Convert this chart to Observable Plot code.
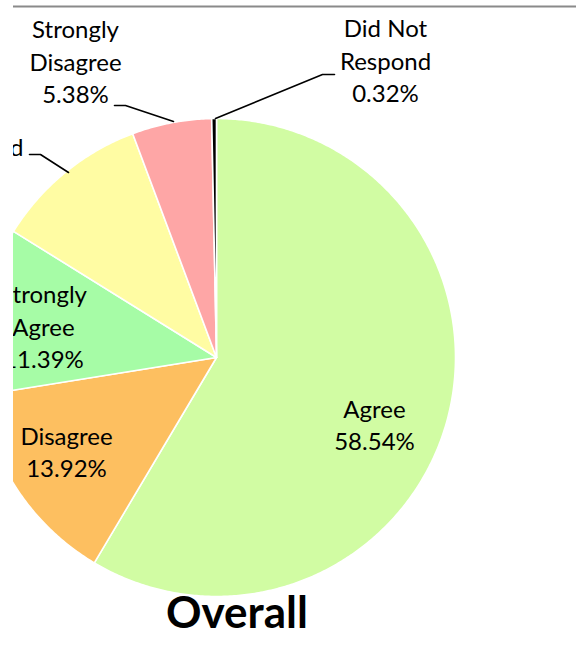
<!DOCTYPE html>
<html>
<head>
<meta charset="utf-8">
<script src="https://cdn.jsdelivr.net/npm/d3@7"></script>
<script src="https://cdn.jsdelivr.net/npm/@observablehq/plot@0.6"></script>
<style>
  html, body { margin: 0; padding: 0; background: #fff; }
  #chart { position: absolute; left: 13px; top: 0; width: 563px; height: 646px; overflow: hidden; }
  #chart svg { display: block; overflow: hidden; }
</style>
</head>
<body>
<div id="chart"></div>
<script>
// ---- data ----
const categories = ["Agree", "Disagree", "Strongly Agree", "Undecided", "Strongly Disagree", "Did Not Respond"];
const percents = [58.54, 13.92, 11.39, 10.45, 5.38, 0.32];
const colors = ["#d1fca3", "#fdbf60", "#a6fca6", "#fffca3", "#fea6a6", "#000000"];
const labelTexts = ["Agree", "Disagree", "Strongly\nAgree", "Undecided", "Strongly\nDisagree", "Did Not\nRespond"];
const title = "Overall";

// ---- layout (pixel offsets relative to pie centre) ----
const W = 563, H = 646;
const CX = 203, CY = 357, R = 239;
const labelPos = [[158, 66], [-150, 93], [-173, -32], [null, -196], [-141, -297], [169, -298]];

// wedges
const pie = d3.pie().sort(null).value(d => d)(percents);
const wedgePts = [];
pie.forEach((p, i) => {
  const a0 = p.startAngle, a1 = p.endAngle;
  const n = Math.max(2, Math.ceil((a1 - a0) / (Math.PI / 360)));
  wedgePts.push({slice: categories[i], x: 0, y: 0});
  for (let k = 0; k <= n; k++) {
    const a = a0 + (a1 - a0) * k / n;
    wedgePts.push({slice: categories[i], x: R * Math.sin(a), y: -R * Math.cos(a)});
  }
  wedgePts.push({slice: categories[i], x: 0, y: 0});
});

// label width for the clipped "Undecided" label
const ctx = document.createElement("canvas").getContext("2d");
ctx.font = "24px Lato";
const undW = ctx.measureText("Undecided").width;
labelPos[3][0] = (23 - 216) - undW / 2;

const labels = categories.map((c, i) => ({
  text: labelTexts[i] + "\n" + percents[i].toFixed(2) + "%",
  x: labelPos[i][0], y: labelPos[i][1]
}));

// leader lines
const leaders = [
  {id: "und", pts: [[29, 154], [40, 154], [68, 172]]},
  {id: "sd", pts: [[114, 105], [125, 105], [173, 121]]},
  {id: "dnr", pts: [[334, 74], [322, 74], [215, 118]]}
].flatMap(l => l.pts.map(([px, py]) => ({id: l.id, x: px - 216, y: py - 357})));

const chart = Plot.plot({
  width: W, height: H,
  margin: 0,
  x: {domain: [-CX, W - CX], range: [0, W], axis: null},
  y: {domain: [-CY, H - CY], range: [0, H], axis: null},
  color: {domain: categories, range: colors},
  style: {fontFamily: "Lato, sans-serif", background: "white"},
  marks: [
    Plot.ruleY([6 - CY], {stroke: "#8a8a8a", strokeWidth: 2.2}),
    Plot.line(wedgePts, {x: "x", y: "y", z: "slice", fill: "slice", stroke: "white", strokeWidth: 1.6, strokeLinejoin: "round"}),
    Plot.line(leaders, {x: "x", y: "y", z: "id", stroke: "black", strokeWidth: 1.6}),
    Plot.text(labels, {x: "x", y: "y", text: "text", fontSize: 24, lineHeight: 1.354, fill: "black", textAnchor: "middle"}),
    Plot.text([title], {x: [236.5 - 216], y: [613 - CY], text: d => d, fontSize: 44, fontWeight: "bold", fill: "black"})
  ]
});
document.getElementById("chart").appendChild(chart);
</script>
</body>
</html>
